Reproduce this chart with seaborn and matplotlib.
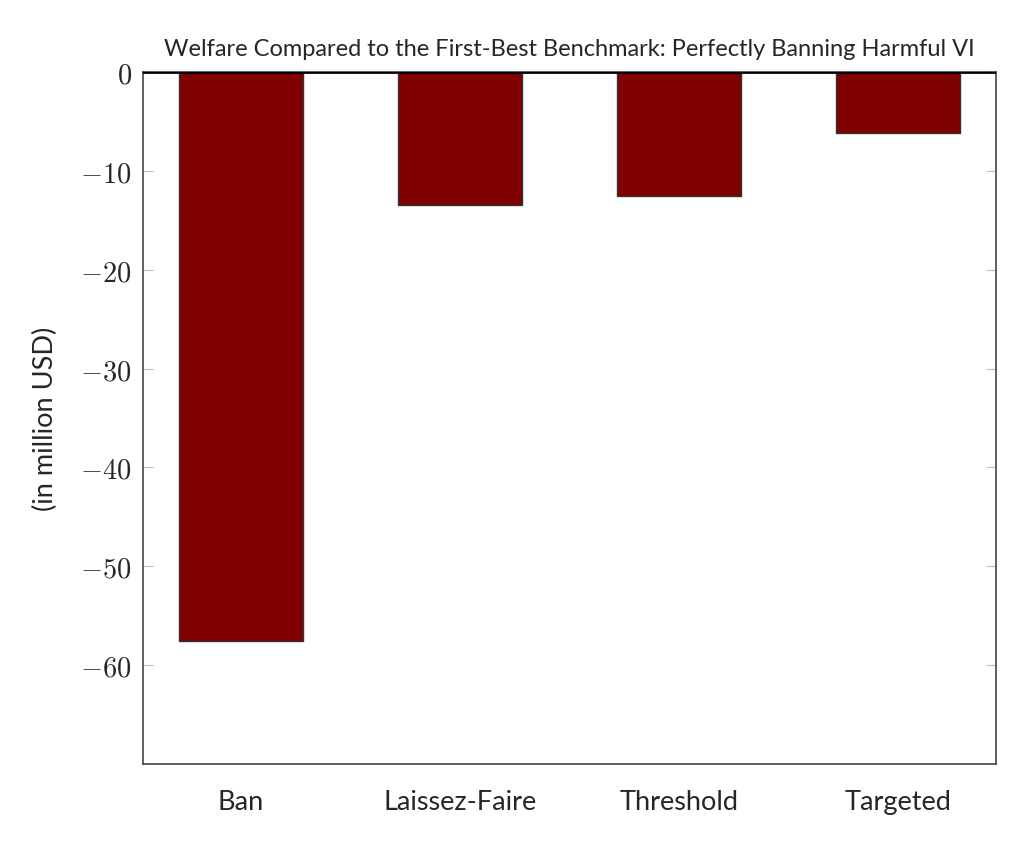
import matplotlib
matplotlib.use("Agg")
import matplotlib.pyplot as plt
import seaborn as sns
import pandas as pd

categories = ["Ban", "Laissez-Faire", "Threshold", "Targeted"]
welfare = [-57.6, -13.5, -12.5, -6.2]
yticks = [0, -10, -20, -30, -40, -50, -60]

sns.set_style("white")
plt.rcParams["font.family"] = ["Lato", "DejaVu Sans"]
plt.rcParams["mathtext.fontset"] = "cm"

data = pd.DataFrame({"policy": categories, "welfare": welfare})

fig = plt.figure(figsize=(10.24, 8.45), dpi=100)
ax = fig.add_axes([0.1396, 0.0947, 0.8331, 0.8189])

sns.barplot(data=data, x="policy", y="welfare", color="#7f0000", saturation=1,
            width=0.566, edgecolor="#333333", linewidth=1.0, ax=ax)

ax.set_xlim(-0.447, 3.447)
ax.set_ylim(-70, 0)
ax.axhline(0, color="black", linewidth=2.0, zorder=5)

ax.set_yticks(yticks)
ax.set_yticklabels([r"$%d$" % v if v == 0 else r"$-%d$" % abs(v) for v in yticks], fontsize=20.5)
ax.tick_params(axis="y", direction="in", length=7, color="#bbbbbb", right=True, left=True, pad=8)
ax.tick_params(axis="x", length=0, labelsize=19.5, pad=18)

for s in ax.spines.values():
    s.set_color("#444444")
    s.set_linewidth(1.2)

ax.set_xlabel("")
ax.set_ylabel("(in million USD)", fontsize=19.5, labelpad=16)
ax.set_title("Welfare Compared to the First-Best Benchmark: Perfectly Banning Harmful VI",
             fontsize=17, pad=12)

fig.savefig("out.png", dpi=100)
